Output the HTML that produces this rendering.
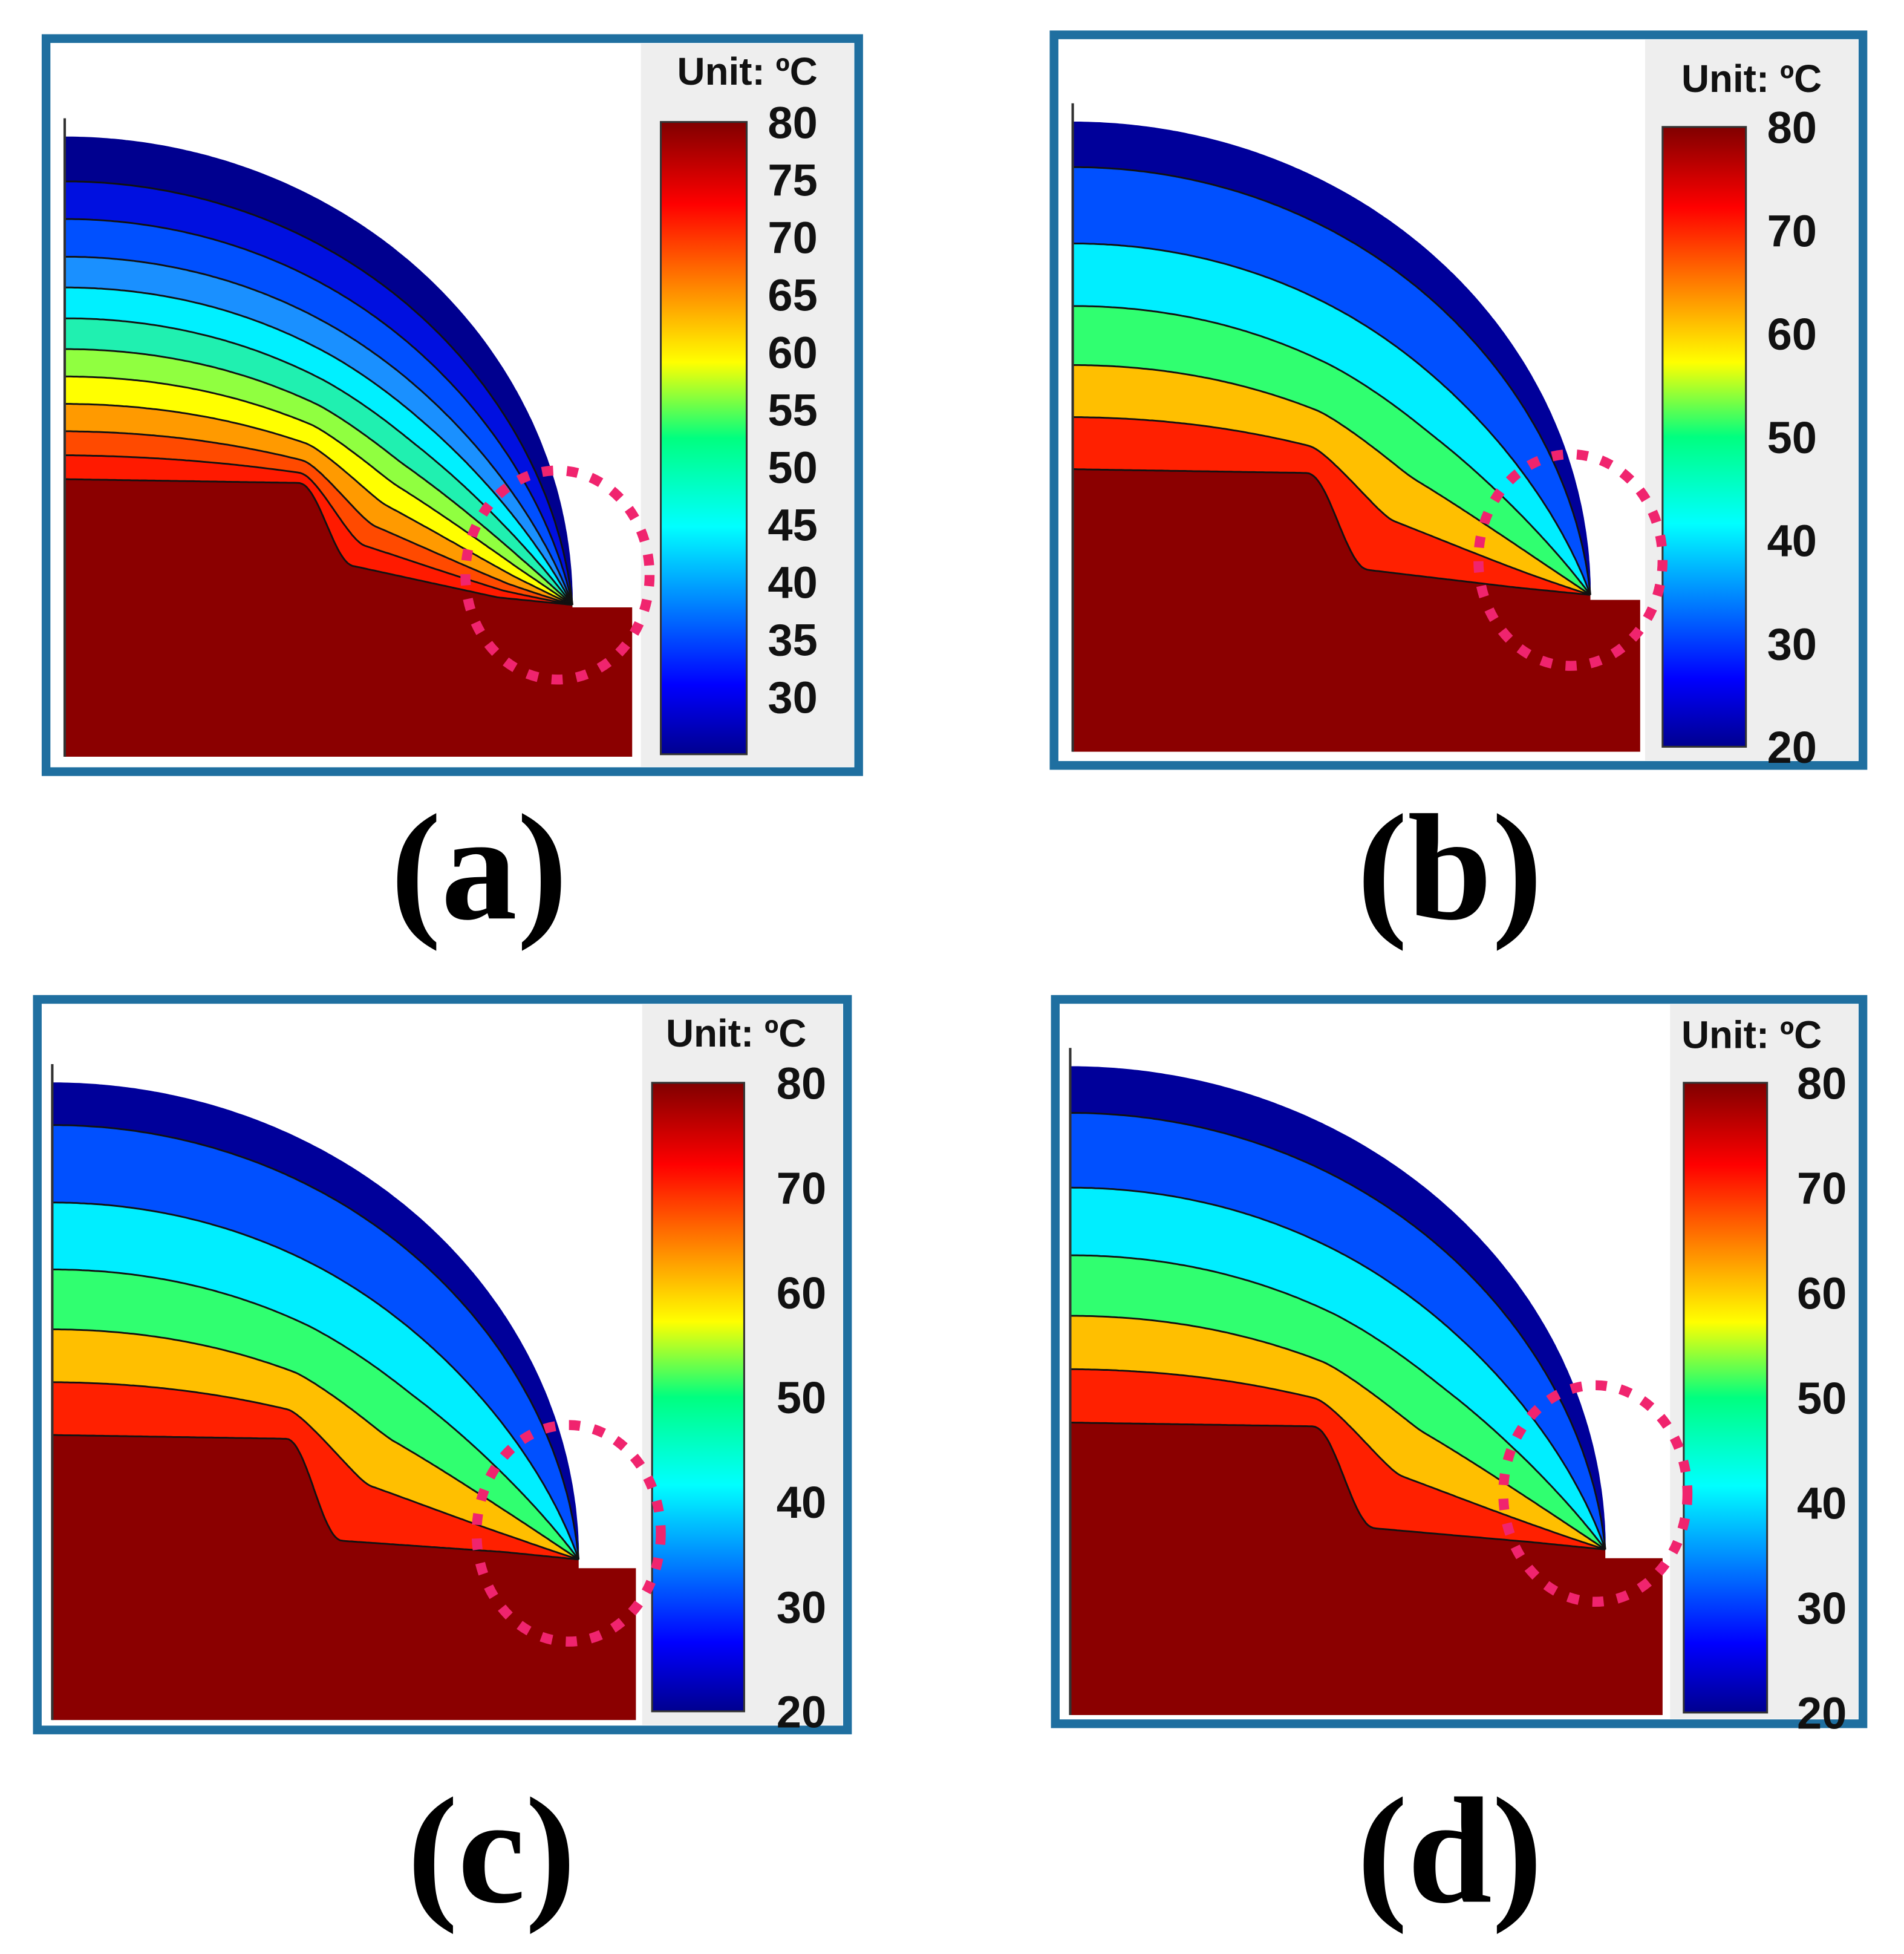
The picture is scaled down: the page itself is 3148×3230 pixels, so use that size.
<!DOCTYPE html>
<html><head><meta charset="utf-8">
<style>
html,body{margin:0;padding:0;background:#fff;}
svg{display:block;}
</style></head>
<body>
<svg id="fig" width="3148" height="3230" viewBox="0 0 1530 1570" preserveAspectRatio="none" xmlns="http://www.w3.org/2000/svg">
<defs>
<linearGradient id="jet" x1="0" y1="1" x2="0" y2="0">
<stop offset="0" stop-color="#00008f"/>
<stop offset="0.11" stop-color="#0000ff"/>
<stop offset="0.36" stop-color="#00ffff"/>
<stop offset="0.5" stop-color="#00ff80"/>
<stop offset="0.62" stop-color="#ffff00"/>
<stop offset="0.87" stop-color="#ff0000"/>
<stop offset="1" stop-color="#800000"/>
</linearGradient>
</defs>
</svg>
<script>
// ---- data ----
const panelIds = ['a','b','c','d'];
const colorbarTicksA = [80,75,70,65,60,55,50,45,40,35,30];
const colorbarTicksBCD = [80,70,60,50,40,30,20];
const rangeA = [25,80];
const rangeBCD = [20,80];
// contour boundary fractions (0 = outer arc, 1 = hot-region boundary)
const fracA = [0.13,0.24,0.35,0.44,0.53,0.62,0.70,0.78,0.86,0.93];
const fracB = [0.13,0.35,0.53,0.70,0.85];
const fracC = [0.12,0.34,0.53,0.70,0.85];
const fracD = [0.13,0.34,0.53,0.70,0.85];
const colorsA = ['#00008f','#0010e0','#0050ff','#1a90ff','#00f0ff','#20f0b0','#90ff40','#ffff00','#ff9a00','#ff4a00','#ff1a00'];
const colorsBCD = ['#00009a','#0050ff','#00eeff','#30ff70','#ffbf00','#ff2000'];

const geo = {
 a:{fx:37,fy:31,fw:653,fh:589,L:52,top:110,cx:460,cy:486,stepR:508,stepTop:488,bottom:608,flatY:385,flatEnd:240,dropEnd:285,dropY:455,
    gx:515,cbx:531,cbw:69,cby:98,cbh:508,lblx:657,unitY:68,circ:[448,462,74,84],lab:'(a)',labx:385,laby:738,frac:fracA,colors:colorsA,ticks:colorbarTicksA,range:rangeA},
 b:{fx:847,fy:28,fw:650,fh:587,L:862,top:98,cx:1278,cy:478,stepR:1318,stepTop:482,bottom:604,flatY:377,flatEnd:1050,dropEnd:1100,dropY:458,
    gx:1322,cbx:1336,cbw:67,cby:102,cbh:498,lblx:1460,unitY:74,circ:[1262,450,74,85],lab:'(b)',labx:1165,laby:738,frac:fracB,colors:colorsBCD,ticks:colorbarTicksBCD,range:rangeBCD},
 c:{fx:30,fy:803,fw:651,fh:587,L:42,top:870,cx:465,cy:1253,stepR:511,stepTop:1260,bottom:1382,flatY:1153,flatEnd:230,dropEnd:275,dropY:1238,
    gx:516,cbx:524,cbw:74,cby:870,cbh:505,lblx:664,unitY:841,circ:[457,1232,74,87],lab:'(c)',labx:395,laby:1528,frac:fracC,colors:colorsBCD,ticks:colorbarTicksBCD,range:rangeBCD},
 d:{fx:848,fy:803,fw:649,fh:582,L:860,top:857,cx:1290,cy:1245,stepR:1336,stepTop:1252,bottom:1378,flatY:1143,flatEnd:1055,dropEnd:1105,dropY:1228,
    gx:1342,cbx:1353,cbw:67,cby:870,cbh:506,lblx:1484,unitY:842,circ:[1282,1200,74,87],lab:'(d)',labx:1165,laby:1528,frac:fracD,colors:colorsBCD,ticks:colorbarTicksBCD,range:rangeBCD}
};

const NS='http://www.w3.org/2000/svg';
const svg=document.getElementById('fig');
function mk(tag,attrs,parent){const e=document.createElementNS(NS,tag);for(const k in attrs)e.setAttribute(k,attrs[k]);(parent||svg).appendChild(e);return e;}

function resample(pts,n){
  const d=[0];for(let i=1;i<pts.length;i++)d.push(d[i-1]+Math.hypot(pts[i][0]-pts[i-1][0],pts[i][1]-pts[i-1][1]));
  const tot=d[d.length-1];const out=[];let j=0;
  for(let k=0;k<=n;k++){const s=tot*k/n;while(j<pts.length-2&&d[j+1]<s)j++;
    const f=(s-d[j])/((d[j+1]-d[j])||1);out.push([pts[j][0]+(pts[j+1][0]-pts[j][0])*f,pts[j][1]+(pts[j+1][1]-pts[j][1])*f]);}
  return out;
}
const toPath=p=>p.map((q,i)=>(i?'L':'M')+q[0].toFixed(1)+' '+q[1].toFixed(1)).join(' ');

panelIds.forEach(id=>{
  const g=geo[id];
  const grp=mk('g',{});
  
  
  const fr=mk('rect',{x:g.fx,y:g.fy,width:g.fw,height:g.fh,fill:'#fff',stroke:'#1f6fa0','stroke-width':7},grp);
  
  
  const gb=mk('rect',{x:g.gx,y:g.fy+4,width:g.fx+g.fw-4-g.gx,height:g.fh-8,fill:'#eeeeee'},grp);
  
  
  const N=200;
  const rx=g.cx-g.L, ry=g.cy-g.top;
  const outerRaw=[];for(let k=0;k<=100;k++){const th=Math.PI/2*(1-k/100);outerRaw.push([g.L+rx*Math.cos(th),g.cy-ry*Math.sin(th)]);}
  const innerRaw=[[g.L,g.flatY],[g.flatEnd,g.flatY+3]];
  for(let k=1;k<=20;k++){const f=k/20,sm=(1-Math.cos(Math.PI*f))/2;innerRaw.push([g.flatEnd+(g.dropEnd-g.flatEnd)*f,g.flatY+3+(g.dropY-g.flatY-3)*sm]);}
  innerRaw.push([g.cx-60,g.cy-6]);innerRaw.push([g.cx,g.cy]);
  // smooth (bump-free) version of inner boundary
  const smoothRaw=[];const P0=[g.L,g.flatY],P1=[g.L+0.5*rx,g.flatY],P2=[g.cx-0.4*rx,g.cy-8],P3=[g.cx,g.cy];
  for(let k=0;k<=100;k++){const u=k/100,a=(1-u)**3,b=3*(1-u)**2*u,c=3*(1-u)*u*u,d=u**3;
    smoothRaw.push([a*P0[0]+b*P1[0]+c*P2[0]+d*P3[0],a*P0[1]+b*P1[1]+c*P2[1]+d*P3[1]]);}
  const outer=resample(outerRaw,N), inner=resample(innerRaw,N), smooth=resample(smoothRaw,N);
  const curve=t=>{const w=Math.pow(t,4);return outer.map((p,i)=>{
      const ix=inner[i][0]*w+smooth[i][0]*(1-w), iy=inner[i][1]*w+smooth[i][1]*(1-w);
      return [p[0]*(1-t)+ix*t,p[1]*(1-t)+iy*t];});};
  const fr2=[0].concat(g.frac,[1]);
  const curves=fr2.map(curve);
  for(let b=0;b<curves.length-1;b++){
    const poly=curves[b].concat(curves[b+1].slice().reverse());
    const band=mk('path',{d:toPath(poly)+'Z',fill:g.colors[b],stroke:g.colors[b],'stroke-width':0.6},grp);
    
    
  }
  const hot=inner.concat([[g.cx,g.stepTop],[g.stepR,g.stepTop],[g.stepR,g.bottom],[g.L,g.bottom]]);
  const hr=mk('path',{d:toPath(hot)+'Z',fill:'#8b0000'},grp);
  
  
  for(let b=1;b<curves.length;b++){
    const ln=mk('path',{d:toPath(curves[b]),fill:'none',stroke:'#111','stroke-width':1.4},grp);
    
    
  }
  const ax=mk('line',{x1:g.L,y1:g.top-15,x2:g.L,y2:g.bottom,stroke:'#333','stroke-width':2},grp);
  
  
  const cb=mk('rect',{x:g.cbx,y:g.cby,width:g.cbw,height:g.cbh,fill:'url(#jet)',stroke:'#333','stroke-width':1.5},grp);
  
  
  const c=g.circ;
  const ci=mk('ellipse',{cx:c[0],cy:c[1],rx:c[2],ry:c[3],fill:'none',stroke:'#f0246e','stroke-width':8,'stroke-dasharray':'9 11'},grp);
  
  
  const ut=mk('text',{x:g.fx+g.fw-33,y:g.unitY,'text-anchor':'end','font-family':'Liberation Sans, sans-serif','font-weight':'bold','font-size':31,fill:'#111'},grp);
  ut.textContent='Unit: ºC';
  
  
  const [lo,hi]=g.range;
  g.ticks.forEach(v=>{
    const y=g.cby+(hi-v)/(hi-lo)*g.cbh;
    const t=mk('text',{x:g.lblx,y:y+13,'text-anchor':'end','font-family':'Liberation Sans, sans-serif','font-weight':'bold','font-size':36,fill:'#111'},grp);
    t.textContent=String(v);
    
    
  });
  const lb=mk('text',{x:g.labx,y:g.laby,'text-anchor':'middle','font-family':'Liberation Serif, serif','font-weight':'bold','font-size':122,fill:'#000'},grp);
  lb.textContent=g.lab;
  
  
});
</script>
</body></html>
